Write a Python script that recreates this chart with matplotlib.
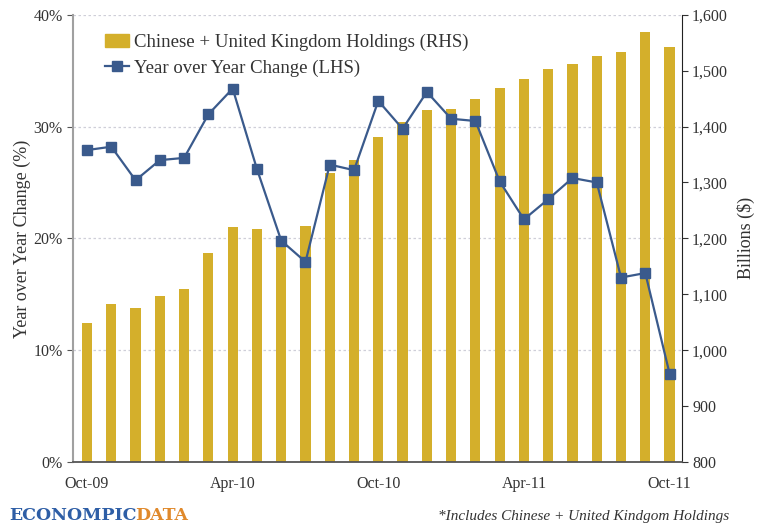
import matplotlib
matplotlib.use("Agg")
from matplotlib import pyplot as plt
from matplotlib.patches import Patch
from matplotlib.lines import Line2D
from matplotlib.ticker import FuncFormatter

plt.rcParams['font.family'] = ['Liberation Serif', 'DejaVu Serif']

months = ['Oct-09', 'Nov-09', 'Dec-09', 'Jan-10', 'Feb-10', 'Mar-10', 'Apr-10',
          'May-10', 'Jun-10', 'Jul-10', 'Aug-10', 'Sep-10', 'Oct-10', 'Nov-10',
          'Dec-10', 'Jan-11', 'Feb-11', 'Mar-11', 'Apr-11', 'May-11', 'Jun-11',
          'Jul-11', 'Aug-11', 'Sep-11', 'Oct-11']
# billions ($), right axis
holdings = [1049, 1083, 1075, 1097, 1110, 1174, 1220, 1217, 1204, 1222,
            1317, 1340, 1381, 1408, 1430, 1431, 1449, 1469, 1485, 1503,
            1512, 1526, 1533, 1569, 1542]
# year over year change (%), left axis
yoy = [27.9, 28.2, 25.2, 27.0, 27.2, 31.1, 33.4, 26.2, 19.8, 17.9,
       26.6, 26.1, 32.3, 29.8, 33.1, 30.7, 30.5, 25.1, 21.7, 23.5,
       25.4, 25.0, 16.5, 16.9, 7.9]
tick_labels = ['Oct-09', 'Apr-10', 'Oct-10', 'Apr-11', 'Oct-11']

GOLD = '#D4AF2B'
NAVY = '#3A5A8C'

fig = plt.figure(figsize=(7.6, 5.28), dpi=100)
ax = fig.add_axes([0.096, 0.125, 0.801, 0.847])
ax2 = ax.twinx()
ax.set_zorder(ax2.get_zorder() + 1)
ax.patch.set_visible(False)

x = list(range(len(months)))

# bars on right axis
for g in [1000, 1200, 1400, 1600]:
    ax2.axhline(g, color='#cfcfd8', lw=0.9, ls=(0, (2, 2)), zorder=0)
ax2.bar(x, holdings, width=0.42, color=GOLD, zorder=2)
ax2.set_ylim(800, 1600)
ax2.set_yticks(range(800, 1601, 100))
ax2.yaxis.set_major_formatter(FuncFormatter(lambda v, p: f'{int(v):,}'))
ax2.set_ylabel('Billions ($)', fontsize=13, color='#333333', labelpad=6)

# line on left axis
ax.plot(x, yoy, color=NAVY, lw=1.6, marker='s', markersize=7, zorder=5)
ax.set_ylim(0, 40)
ax.set_yticks([0, 10, 20, 30, 40])
ax.yaxis.set_major_formatter(FuncFormatter(lambda v, p: f'{int(v)}%'))
ax.set_ylabel('Year over Year Change (%)', fontsize=13, color='#333333', labelpad=2)

ax.set_xlim(-0.58, 24.5)
ax.set_xticks([0, 6, 12, 18, 24])
ax.set_xticklabels(tick_labels)

for a in (ax, ax2):
    a.spines['top'].set_visible(False)
    a.tick_params(labelsize=11.5, colors='#333333', length=4)
ax.spines['left'].set_color('#a0a0a0')
ax.spines['left'].set_linewidth(1.5)
ax.spines['right'].set_visible(False)
ax2.spines['left'].set_visible(False)
ax2.spines['right'].set_color('#222222')
ax2.spines['bottom'].set_visible(False)
ax.spines['bottom'].set_color('#555555')
ax.spines['bottom'].set_linewidth(1.3)
ax.tick_params(axis='x', length=0, pad=10)
ax.tick_params(axis='y', color='#555555')

handles = [Patch(color=GOLD),
           Line2D([], [], color=NAVY, lw=1.6, marker='s', markersize=7)]
ax.legend(handles, ['Chinese + United Kingdom Holdings (RHS)',
                    'Year over Year Change (LHS)'],
          loc='upper left', bbox_to_anchor=(0.025, 0.995), frameon=False,
          fontsize=13.5, handlelength=1.3, handletextpad=0.25,
          labelspacing=0.45, labelcolor='#333333')

# footer
fig.text(0.012, 0.016, 'ECONOMPIC', color='#2E5EA6', fontsize=12.5,
         fontweight='bold', family='DejaVu Serif')
fig.text(0.178, 0.016, 'DATA', color='#E0892B', fontsize=12.5,
         fontweight='bold', family='DejaVu Serif')
fig.text(0.96, 0.016, '*Includes Chinese + United Kindgom Holdings',
         ha='right', fontsize=11, style='italic', color='#333333')

fig.savefig('out.png', dpi=100)
